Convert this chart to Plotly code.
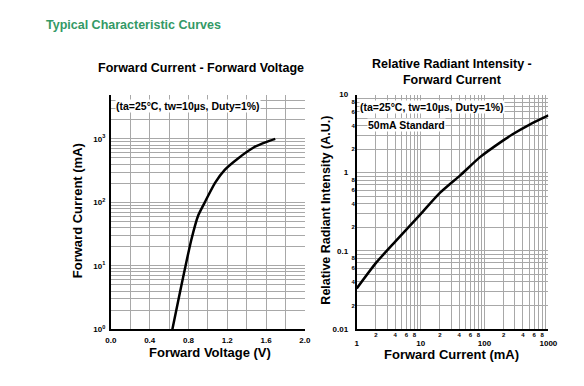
import plotly.graph_objects as go

# ---------------- data ----------------
# Forward Current vs Forward Voltage
vf_voltage = [0.634, 0.70, 0.766, 0.83, 0.90, 0.968, 1.074, 1.174, 1.311, 1.48, 1.60, 1.695]
vf_current = [1, 3.1, 9.4, 26, 62, 100, 203, 325, 492, 745, 890, 1000]

# Relative Radiant Intensity vs Forward Current
ri_current = [1, 2, 4, 10, 20, 42, 85, 194, 275, 500, 1000]
ri_intensity = [0.033, 0.070, 0.131, 0.295, 0.55, 0.93, 1.58, 2.57, 3.1, 4.1, 5.4]

vf_x_ticks = [0.0, 0.2, 0.4, 0.6, 0.8, 1.0, 1.2, 1.4, 1.6, 1.8, 2.0]
vf_x_labels = ["0.0", "", "0.4", "", "0.8", "", "1.2", "", "1.6", "", "2.0"]
vf_y_ticks = [m * 10 ** d for d in range(0, 4) for m in range(1, 10) if m * 10 ** d <= 5000]
vf_y_labels = [("10<sup>%d</sup>" % d) if m == 1 else "" for d in range(0, 4) for m in range(1, 10) if m * 10 ** d <= 5000]

ri_x_ticks = [m * 10 ** d for d in range(0, 3) for m in range(1, 10)] + [1000]
ri_x_major = ["1" if v == 1 else "10" if v == 10 else "100" if v == 100 else "1000" if v == 1000 else "" for v in ri_x_ticks]
ri_x_minor_vals = [m * 10 ** d for d in range(0, 3) for m in (2, 4, 6, 8)]
ri_x_minor_text = [str(m) for d in range(0, 3) for m in (2, 4, 6, 8)]

ri_y_ticks = [m * 10.0 ** d for d in range(-2, 1) for m in range(1, 10)] + [10]
ri_y_major_map = {0.01: "0.01", 0.1: "0.1", 1.0: "1", 10: "10"}
ri_y_major = [ri_y_major_map.get(round(v, 6), "") for v in ri_y_ticks]
ri_y_minor_vals = [m * 10.0 ** d for d in range(-2, 1) for m in (2, 4, 6, 8)]
ri_y_minor_text = [str(m) for d in range(-2, 1) for m in (2, 4, 6, 8)]

# ---------------- figure ----------------
W, H = 584, 386
FONT = "Liberation Sans, Arial, sans-serif"
GRID = "#a8a8a8"

def px_x(x):
    return x / W

def px_y(y):
    return 1 - y / H

fig = go.Figure()

fig.add_trace(go.Scatter(x=vf_voltage, y=vf_current, mode="lines",
                         line=dict(color="black", width=2.5, shape="spline", smoothing=0.6),
                         xaxis="x", yaxis="y", hoverinfo="skip", showlegend=False))
fig.add_trace(go.Scatter(x=ri_current, y=ri_intensity, mode="lines",
                         line=dict(color="black", width=2.5, shape="spline", smoothing=0.6),
                         xaxis="x2", yaxis="y2", hoverinfo="skip", showlegend=False))
# transparent copy to carry the minor-label overlay axes
fig.add_trace(go.Scatter(x=ri_current, y=ri_intensity, mode="lines",
                         line=dict(color="rgba(0,0,0,0)", width=0),
                         xaxis="x3", yaxis="y3", hoverinfo="skip", showlegend=False))

tick_font = dict(family=FONT, size=8, color="black", weight="bold")
minor_font = dict(family=FONT, size=6, color="black", weight="bold")

fig.update_layout(
    width=W, height=H,
    margin=dict(l=0, r=0, t=0, b=0, pad=0),
    paper_bgcolor="white", plot_bgcolor="white",
    showlegend=False,
    xaxis=dict(domain=[px_x(107.7), px_x(306.7)], anchor="y", range=[0, 2],
               tickvals=vf_x_ticks, ticktext=vf_x_labels, tickfont=tick_font,
               showgrid=True, gridcolor=GRID, gridwidth=1,
               showline=True, linecolor="black", linewidth=2, ticks="",
               ticklabelstandoff=2, zeroline=False),
    yaxis=dict(domain=[px_y(333), px_y(92.7)], anchor="x", type="log", range=[0, 3.69897],
               tickvals=vf_y_ticks, ticktext=vf_y_labels, tickfont=tick_font,
               showgrid=True, gridcolor=GRID, gridwidth=1,
               showline=True, linecolor="black", linewidth=2, ticks="",
               ticklabelstandoff=2, zeroline=False),
    xaxis2=dict(domain=[px_x(360), px_x(556.7)], anchor="y2", type="log", range=[0, 3],
                tickvals=ri_x_ticks, ticktext=ri_x_major, tickfont=tick_font,
                showgrid=True, gridcolor=GRID, gridwidth=1,
                showline=True, linecolor="black", linewidth=2, ticks="",
                ticklabelstandoff=5, zeroline=False),
    yaxis2=dict(domain=[px_y(332.7), px_y(92.7)], anchor="x2", type="log", range=[-2, 1],
                tickvals=ri_y_ticks, ticktext=ri_y_major, tickfont=tick_font,
                showgrid=True, gridcolor=GRID, gridwidth=1,
                showline=True, linecolor="black", linewidth=2, ticks="",
                ticklabelstandoff=5, zeroline=False),
    xaxis3=dict(overlaying="x2", anchor="y3", side="bottom", type="log", range=[0, 3],
                tickvals=ri_x_minor_vals, ticktext=ri_x_minor_text, tickfont=minor_font,
                showgrid=False, showline=False, ticks="", ticklabelstandoff=1, zeroline=False),
    yaxis3=dict(overlaying="y2", anchor="x3", side="left", type="log", range=[-2, 1],
                tickvals=ri_y_minor_vals, ticktext=ri_y_minor_text, tickfont=minor_font,
                showgrid=False, showline=False, ticks="", ticklabelstandoff=1, zeroline=False),
)

ann = []
def add_text(text, x, y, size, color="black", xanchor="center", textangle=0, bg=None):
    d = dict(text=text, x=px_x(x), y=px_y(y), xref="paper", yref="paper",
             showarrow=False, xanchor=xanchor, yanchor="middle", textangle=textangle,
             font=dict(family=FONT, size=size, color=color, weight="bold"))
    if bg:
        d.update(bgcolor=bg, borderpad=0)
    ann.append(d)

add_text("Typical Characteristic Curves", 39, 22, 12.5, color="#339966", xanchor="left")
add_text("Forward Current - Forward Voltage", 200, 66, 12.5)
add_text("Relative Radiant Intensity -<br>Forward Current", 458, 70, 12.5)
add_text("Forward Voltage (V)", 209, 357, 13)
add_text("Forward Current (mA)", 457, 359, 13)
add_text("Forward Current (mA)", 73, 212, 13, textangle=-90)
add_text("Relative Radiant Intensity (A.U.)", 329, 211, 12.5, textangle=-90)
add_text("(ta=25°C, tw=10µs, Duty=1%)", 112, 104, 10.5, xanchor="left", bg="white")
add_text("(ta=25°C, tw=10µs, Duty=1%)", 362, 105, 10.5, xanchor="left", bg="white")
add_text("50mA Standard", 371, 124, 10.5, xanchor="left", bg="white")

fig.update_layout(annotations=ann)

post = ("document.documentElement.style.margin='0';document.documentElement.style.overflow='hidden';"
        "document.body.style.margin='0';document.body.style.padding='0';document.body.style.overflow='hidden';")

fig.write_html("out.html", config={"displayModeBar": False}, post_script=post)
